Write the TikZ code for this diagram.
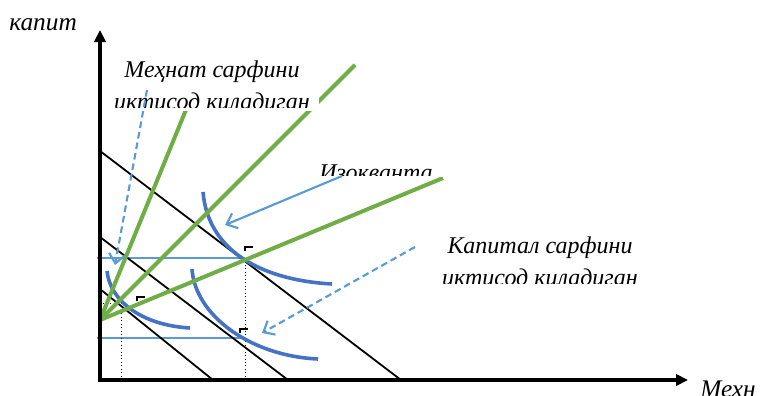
\documentclass[tikz,border=0pt]{standalone}
\usepackage{fontspec}
\setmainfont{Liberation Serif}
\usetikzlibrary{arrows.meta}
\definecolor{grn}{HTML}{70AD47}
\definecolor{crv}{HTML}{4472C4}
\definecolor{arw}{HTML}{5B9BD5}
\begin{document}
\begin{tikzpicture}[x=0.75pt,y=-0.75pt,
  budget/.style={draw=black,line width=1.35pt},
  isoq/.style={draw=crv,line width=2.7pt},
  ray/.style={draw=grn,line width=3pt},
  guide/.style={draw=arw,line width=1pt},
  drop/.style={draw=black,line width=0.6pt,dotted},
  pointer/.style={draw=arw,line width=1.6pt,-{Straight Barb[length=7pt,width=12pt]}},
  dashpointer/.style={pointer,dash pattern=on 5pt off 3pt},
  corner/.style={draw=black,line width=1.3pt},
  axisline/.style={line width=3pt,-{Triangle[length=9pt,width=8.5pt]}},
  lbl/.style={font=\fontsize{18}{22}\selectfont\itshape,inner sep=0pt},
  axlbl/.style={font=\fontsize{19}{22}\selectfont\itshape,inner sep=0pt}]
\useasboundingbox (0,0) rectangle (760,396);

% key points
\coordinate (O) at (100,380);
\coordinate (R) at (100,320);
\coordinate (tA) at (245,258);
\coordinate (tB) at (245,338);
\coordinate (tC) at (121,303);

% guide lines
\draw[guide] (97,258) -- (tA);
\draw[guide] (97,338) -- (tB);
\draw[drop] (tA) -- (245,380);
\draw[drop] (tC) -- (121,380);
\draw[drop] (100,303) -- (tC);

% budget lines
\coordinate (b1s) at (100,151); \coordinate (b1e) at (401,380);
\coordinate (b2s) at (100,237); \coordinate (b2e) at (288,380);
\coordinate (b3s) at (100,289); \coordinate (b3e) at (213,380);
\draw[budget] (b1s) -- (b1e);
\draw[budget] (b2s) -- (b2e);
\draw[budget] (b3s) -- (b3e);

% isoquants
\coordinate (a0) at (203,192); \coordinate (a1) at (332,284);
\coordinate (q0) at (192,269); \coordinate (q1) at (318,359);
\coordinate (c0) at (107,271); \coordinate (c1) at (190,328);
\draw[isoq] (a0) .. controls (208,250) and (260,280) .. (a1);
\draw[isoq] (q0) .. controls (195,315) and (250,356) .. (q1);
\draw[isoq] (c0) .. controls (110,300) and (140,325) .. (c1);

% rays
\coordinate (r1) at (190,100);
\coordinate (r2) at (355,65);
\coordinate (r3) at (443,178);
\draw[ray] (R) -- (r1);
\draw[ray] (R) -- (r2);
\draw[ray] (R) -- (r3);

% tangency markers
\draw[corner] (245,251) -- (245,247) -- (253,247);
\draw[corner] (240,333) -- (240,329) -- (248,329);
\draw[corner] (137,301) -- (137,297) -- (145,297);

% text boxes
\begin{scope}
\fill[white] (110,55) rectangle (319,111);
\clip (110,55) rectangle (319,107);
\node[lbl,anchor=base] (m1) at (212,77) {Меҳнат сарфини};
\node[lbl,anchor=base] (m2) at (212,109) {иктисод киладиган};
\end{scope}
\begin{scope}
\fill[white] (315,155) rectangle (446,177);
\clip (315,155) rectangle (446,175);
\node[lbl,anchor=base] (iz) at (376,180) {Изокванта};
\end{scope}
\begin{scope}
\fill[white] (418,225) rectangle (662,284);
\clip (418,225) rectangle (662,283);
\node[lbl,anchor=base] (k1) at (540,253) {Капитал сарфини};
\node[lbl,anchor=base] (k2) at (540,285) {иктисод киладиган};
\end{scope}

% pointers
\coordinate (p1s) at (342,176); \coordinate (p1e) at (225,225);
\coordinate (p2s) at (147,90);  \coordinate (p2e) at (115,265);
\coordinate (p3s) at (415,247); \coordinate (p3e) at (262,333);
\draw[pointer] (p1s) -- (p1e);
\draw[dashpointer] (p2s) -- (p2e);
\draw[dashpointer] (p3s) -- (p3e);

% axes
\coordinate (ytop) at (100,30);
\coordinate (xend) at (688,380);
\draw[axisline] (100,382) -- (ytop);
\draw[axisline] (98,380) -- (xend);
\node[axlbl,anchor=base west] (ky) at (9,30) {капит};
\node[axlbl,anchor=base west] (kx) at (700,397) {Мехн};
\end{tikzpicture}
\end{document}
